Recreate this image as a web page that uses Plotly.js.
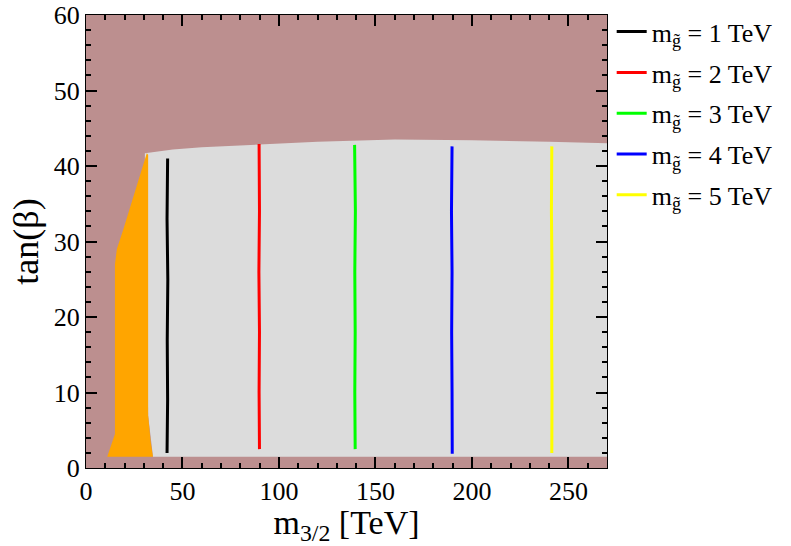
<!DOCTYPE html>
<html>
<head>
<meta charset="utf-8">
<script src="https://cdn.plot.ly/plotly-3.0.1.min.js"></script>
<style>html,body{margin:0;padding:0;background:#fff;}#chart{width:791px;height:546px;}</style>
</head>
<body>
<div id="chart"></div>
<script>
// Allowed region (light gray) boundary
var grayX = [30.5, 45, 60, 90, 120, 160, 200, 240, 270, 270, 34.7, 32.2];
var grayY = [41.7, 42.2, 42.5, 42.9, 43.2, 43.5, 43.4, 43.2, 43.0, 1.5, 1.5, 7];
// Orange region boundary
var orangeX = [11, 13, 15, 15, 16, 19.2, 31.5, 32.2, 32.2, 33.5, 34.7];
var orangeY = [1.5, 3, 4.5, 27, 29, 31.5, 41.7, 41.5, 7, 3.5, 1.5];
// Gluino mass contours
var lineNames = ['1', '2', '3', '4', '5'];
var lineColors = ['#000000', '#ff0000', '#00ff00', '#0000ff', '#ffff00'];
var line1X = [42.3, 42.0, 42.4, 42.1, 42.3, 42.0];
var line1Y = [41.0, 33, 25, 17, 9, 2.0];
var line2X = [89.7, 89.9, 89.6, 89.9, 89.7, 89.9];
var line2Y = [42.9, 34, 26, 18, 10, 2.5];
var line3X = [139.2, 139.6, 139.3, 139.5, 139.3, 139.5];
var line3Y = [42.8, 34, 26, 18, 10, 2.5];
var line4X = [189.7, 189.4, 189.7, 189.5, 189.7, 189.8];
var line4Y = [42.6, 34, 26, 18, 10, 1.9];
var line5X = [241.4, 241.2, 241.5, 241.3, 241.5, 241.4];
var line5Y = [42.6, 34, 26, 18, 10, 2.0];

var lx = [line1X, line2X, line3X, line4X, line5X];
var ly = [line1Y, line2Y, line3Y, line4Y, line5Y];

var traces = [
  {x: grayX, y: grayY, type: 'scatter', mode: 'lines', fill: 'toself',
   fillcolor: '#dcdcdc', line: {width: 0, color: '#dcdcdc'}, showlegend: false, hoverinfo: 'skip'},
  {x: orangeX, y: orangeY, type: 'scatter', mode: 'lines', fill: 'toself',
   fillcolor: '#ffa500', line: {width: 0, color: '#ffa500'}, showlegend: false, hoverinfo: 'skip'}
];
for (var i = 0; i < 5; i++) {
  traces.push({x: lx[i], y: ly[i], type: 'scatter', mode: 'lines',
    line: {color: lineColors[i], width: 3}, legendgroup: 'g' + i,
    name: 'm<sub>g\u0303</sub> = ' + lineNames[i] + ' TeV'});
}

var font = 'Liberation Serif';
var tickFont = {family: font, size: 26, color: '#000000'};
var layout = {
  width: 791, height: 546,
  margin: {l: 86, r: 184, t: 15, b: 78, autoexpand: false},
  paper_bgcolor: '#ffffff',
  plot_bgcolor: '#bc8f8f',
  font: {family: font, size: 26, color: '#000000'},
  showlegend: true,
  legend: {x: 1.009, y: 1.015, xanchor: 'left', yanchor: 'top', bgcolor: 'rgba(0,0,0,0)',
    font: {family: font, size: 26, color: '#000000'}, tracegroupgap: 4},
  xaxis: {range: [0, 270], dtick: 50, tick0: 0, ticks: 'inside', ticklen: 11, tickwidth: 2, tickcolor: '#000000',
    automargin: false, tickangle: 0,
    showline: true, linecolor: '#000000', linewidth: 1, mirror: 'allticks', showgrid: false, zeroline: false,
    minor: {dtick: 10, ticks: 'inside', ticklen: 5, tickwidth: 2, tickcolor: '#000000', showgrid: false},
    tickfont: tickFont,
    title: {text: 'm<sub>3/2</sub> [TeV]', font: {family: font, size: 34, color: '#000000'}, standoff: 2}},
  yaxis: {range: [0, 60], dtick: 10, tick0: 0, ticks: 'inside', ticklen: 11, tickwidth: 2, tickcolor: '#000000',
    automargin: false, tickangle: 0,
    showline: true, linecolor: '#000000', linewidth: 1, mirror: 'allticks', showgrid: false, zeroline: false,
    minor: {dtick: 2, ticks: 'inside', ticklen: 5, tickwidth: 2, tickcolor: '#000000', showgrid: false},
    tickfont: tickFont,
    title: {text: 'tan(\u03b2)', font: {family: font, size: 36, color: '#000000'}, standoff: 4}}
};
Plotly.newPlot('chart', traces, layout, {displayModeBar: false});
</script>
</body>
</html>
